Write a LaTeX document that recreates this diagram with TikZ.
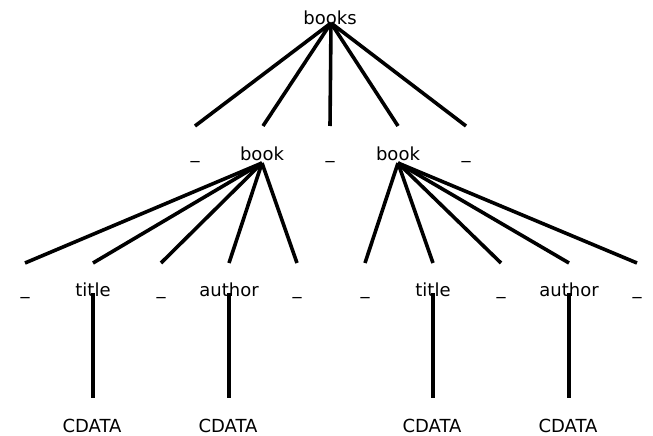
\documentclass[tikz,border=0pt]{standalone}
\usepackage{fontspec}
\setmainfont{DejaVu Sans}
\begin{document}
\begin{tikzpicture}[x=1pt,y=-1pt,
  lbl/.style={anchor=base,inner sep=0pt,font=\fontsize{18}{20}\selectfont},
  edge/.style={line width=3.6pt}]
\useasboundingbox (0,0) rectangle (653,436);
% labels
\node[lbl] (books) at (330,25) {books};
\node[lbl] (u1) at (195,158) {\_};
\node[lbl] (book1) at (262,160) {book};
\node[lbl] (u2) at (330,158) {\_};
\node[lbl] (book2) at (398,160) {book};
\node[lbl] (u3) at (466,158) {\_};
\node[lbl] (l1) at (25,294) {\_};
\node[lbl] (title1) at (93,296) {title};
\node[lbl] (l3) at (161,294) {\_};
\node[lbl] (author1) at (229,296) {author};
\node[lbl] (l5) at (297,294) {\_};
\node[lbl] (l6) at (365,294) {\_};
\node[lbl] (title2) at (433,296) {title};
\node[lbl] (l8) at (501,294) {\_};
\node[lbl] (author2) at (569,296) {author};
\node[lbl] (l10) at (637,294) {\_};
\node[lbl] (c1) at (92,432) {CDATA};
\node[lbl] (c2) at (228,432) {CDATA};
\node[lbl] (c3) at (432,432) {CDATA};
\node[lbl] (c4) at (568,432) {CDATA};
% connector ends
\coordinate (r0) at (331,23);
\coordinate (r1) at (195,126);
\coordinate (r2) at (263,126);
\coordinate (r3) at (330,126);
\coordinate (r4) at (398,126);
\coordinate (r5) at (466,126);
\coordinate (b1) at (262,163);
\coordinate (b2) at (398,163);
\foreach \x [count=\i] in {25,93,161,229,297} {\coordinate (p\i) at (\x,263);}
\foreach \x [count=\i] in {365,433,501,569,637} {\coordinate (q\i) at (\x,263);}
\coordinate (t1) at (93,293);
\coordinate (t2) at (229,293);
\coordinate (t3) at (433,293);
\coordinate (t4) at (569,293);
\coordinate (d1) at (93,398);
\coordinate (d2) at (229,398);
\coordinate (d3) at (433,398);
\coordinate (d4) at (569,398);
% edges
\foreach \i in {1,...,5} {\draw[edge] (r0) -- (r\i);}
\foreach \i in {1,...,5} {\draw[edge] (b1) -- (p\i);}
\foreach \i in {1,...,5} {\draw[edge] (b2) -- (q\i);}
\foreach \i in {1,...,4} {\draw[edge] (t\i) -- (d\i);}
\end{tikzpicture}
\end{document}
